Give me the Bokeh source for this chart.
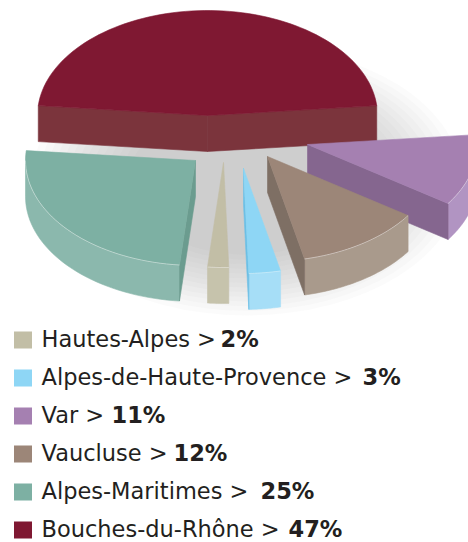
import numpy as np
from bokeh.plotting import figure
from bokeh.models import Range1d, ColumnDataSource
from bokeh.core.properties import value
from bokeh.embed import file_html
from bokeh.resources import INLINE

# ---------------- data ----------------
departements = ["Hautes-Alpes", "Alpes-de-Haute-Provence", "Var", "Vaucluse",
                "Alpes-Maritimes", "Bouches-du-Rhône"]
parts = [2, 3, 11, 12, 25, 47]
legend_labels = ["Hautes-Alpes >", "Alpes-de-Haute-Provence >", "Var >", "Vaucluse >",
                 "Alpes-Maritimes >", "Bouches-du-Rhône >"]
pct_labels = ["2%", "3%", "11%", "12%", "25%", "47%"]
# clockwise order of the slices, starting with the big one centred at the top
pie_order = ["Bouches-du-Rhône", "Var", "Vaucluse", "Alpes-de-Haute-Provence",
             "Hautes-Alpes", "Alpes-Maritimes"]

# ---------------- styles ----------------
top_colors = {"Hautes-Alpes": "#c2bea6", "Alpes-de-Haute-Provence": "#8ed6f5",
              "Var": "#a580b1", "Vaucluse": "#9c8678",
              "Alpes-Maritimes": "#7db0a3", "Bouches-du-Rhône": "#7f1832"}
radial_colors = {"Hautes-Alpes": "#b3af97", "Alpes-de-Haute-Provence": "#6cc0e6",
                 "Var": "#85668f", "Vaucluse": "#7e6f64",
                 "Alpes-Maritimes": "#6b9c8f", "Bouches-du-Rhône": "#7b343c"}
outer_colors = {"Hautes-Alpes": "#c6c3ac", "Alpes-de-Haute-Provence": "#a6def7",
                "Var": "#b194c2", "Vaucluse": "#a99a8c",
                "Alpes-Maritimes": "#8bb8ad", "Bouches-du-Rhône": "#7b343c"}
# explode offsets in pixels (layout)
explode = {"Bouches-du-Rhône": (0, -39), "Var": (100, -10), "Vaucluse": (60, 2),
           "Alpes-de-Haute-Provence": (36, 14), "Hautes-Alpes": (16, 8),
           "Alpes-Maritimes": (-12, 6)}

CX, CY = 207, 154          # pie centre (screen px)
RX, RY = 170, 105          # ellipse radii of the top face
DEPTH = 36                 # thickness
W, H = 468, 542

p = figure(width=W, height=H, output_backend="svg", toolbar_location=None,
           x_range=Range1d(0, W), y_range=Range1d(H, 0),
           min_border=0, outline_line_color=None)
p.axis.visible = False
p.grid.visible = False
p.background_fill_color = "white"

# ---------------- soft shadow ----------------
n_sh = 14
sh_scale = np.linspace(1.0, 0.55, n_sh)
p.ellipse(x=[246] * n_sh, y=[180] * n_sh, width=list(430 * sh_scale),
          height=list(270 * sh_scale), fill_color="#80858c", fill_alpha=0.036,
          line_color=None)

share = {d: v / sum(parts) for d, v in zip(departements, parts)}
start = 90 + share[pie_order[0]] * 360 / 2


def pt(cx, cy, ang, dz=0.0):
    a = np.radians(ang)
    return cx + RX * np.cos(a), cy - RY * np.sin(a) + dz


faces = {"xs": [], "ys": [], "color": []}
hl = {"xs": [], "ys": []}
cur = start
for dep in pie_order:
    a1 = cur
    a2 = cur - share[dep] * 360
    cur = a2
    dx, dy = explode[dep]
    cx, cy = CX + dx, CY + dy

    # outer (curved) faces that look toward the viewer
    for k in (-1, 0, 1):
        lo, hi = max(a2, -180 + 360 * k), min(a1, 360 * k)
        if hi > lo:
            angs = np.linspace(lo, hi, 40)
            tx, ty = pt(cx, cy, angs)
            bx, by = pt(cx, cy, angs[::-1], DEPTH)
            faces["xs"].append(list(np.concatenate([tx, bx])))
            faces["ys"].append(list(np.concatenate([ty, by])))
            faces["color"].append(outer_colors[dep])
            hl["xs"].append(list(tx))
            hl["ys"].append(list(ty))
    # radial cut faces
    for ang, visible in ((a1, np.cos(np.radians(a1)) < 0), (a2, np.cos(np.radians(a2)) > 0)):
        if visible:
            ex, ey = pt(cx, cy, ang)
            faces["xs"].append([cx, ex, ex, cx])
            faces["ys"].append([cy, ey, ey + DEPTH, cy + DEPTH])
            faces["color"].append(radial_colors[dep])
    # top face
    angs = np.linspace(a1, a2, 80)
    tx, ty = pt(cx, cy, angs)
    faces["xs"].append([cx] + list(tx))
    faces["ys"].append([cy] + list(ty))
    faces["color"].append(top_colors[dep])

p.patches("xs", "ys", fill_color="color", line_color="color", line_width=0.6,
          source=ColumnDataSource(faces))
p.multi_line("xs", "ys", line_color="white", line_alpha=0.45, line_width=1,
             source=ColumnDataSource(hl))

# ---------------- legend ----------------
n = len(departements)
row_y = [339.5 + 38.0 * i for i in range(n)]       # row centres
p.rect(x=[22.5] * n, y=row_y, width=18, height=17,
       fill_color=[top_colors[d] for d in departements], line_color=None)
text_y = [r - 1 for r in row_y]
p.text(x=[41] * n, y=text_y, text=legend_labels, text_font=value("DejaVu Sans"),
       text_font_size="22.5px", text_color="#231f20", text_baseline="alphabetic")
bold_x = [220, 362, 111, 173, 260, 288]
p.text(x=bold_x, y=text_y, text=pct_labels, text_font=value("DejaVu Sans"),
       text_font_size="22.5px", text_font_style="bold", text_color="#231f20",
       text_baseline="alphabetic")

open("out.html", "w").write(file_html(p, INLINE))
